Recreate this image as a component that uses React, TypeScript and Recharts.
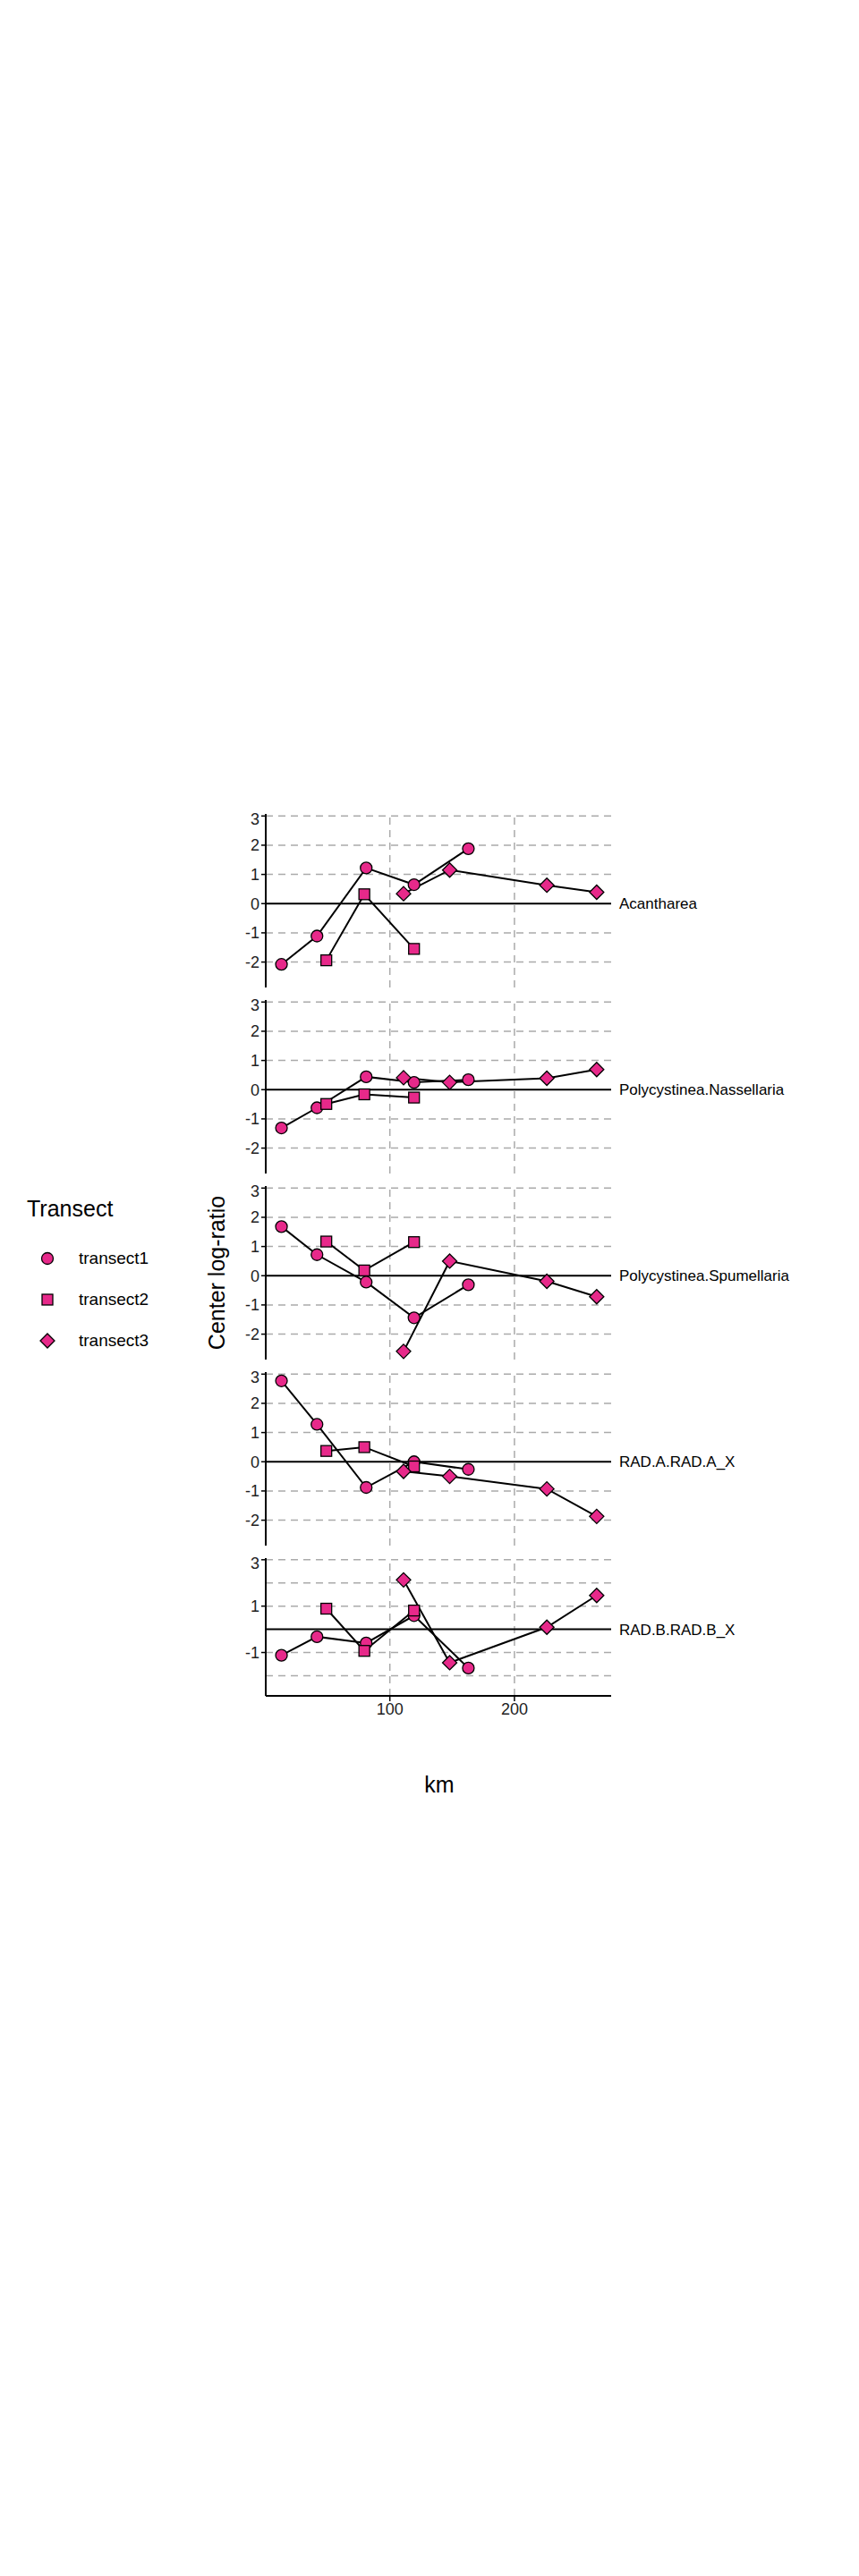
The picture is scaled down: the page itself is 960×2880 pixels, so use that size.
import { Line, LineChart, ReferenceLine, XAxis, YAxis } from "recharts";

const taxa = [
  "Acantharea",
  "Polycystinea.Nassellaria",
  "Polycystinea.Spumellaria",
  "RAD.A.RAD.A_X",
  "RAD.B.RAD.B_X",
];

const kmT1 = [13, 41.5, 81, 119.4, 163];
const kmT2 = [49, 79.5, 119.4];
const kmT3 = [111, 148, 226, 266];

// center log-ratio per taxon, one row per taxon
const clrT1 = [
  [-2.08, -1.11, 1.22, 0.65, 1.88],
  [-1.31, -0.62, 0.44, 0.25, 0.34],
  [1.68, 0.72, -0.22, -1.44, -0.31],
  [2.77, 1.28, -0.88, 0.0, -0.26],
  [-1.12, -0.32, -0.59, 0.59, -1.67],
];
const clrT2 = [
  [-1.94, 0.32, -1.55],
  [-0.49, -0.16, -0.27],
  [1.17, 0.18, 1.15],
  [0.37, 0.5, -0.16],
  [0.89, -0.93, 0.81],
];
const clrT3 = [
  [0.34, 1.15, 0.63, 0.39],
  [0.41, 0.25, 0.39, 0.69],
  [-2.59, 0.5, -0.19, -0.72],
  [-0.33, -0.5, -0.93, -1.87],
  [2.13, -1.44, 0.09, 1.46],
];

const yTicks = [-2, -1, 0, 1, 2, 3];
const xTicks = [100, 200];
const PINK = "#e7298a";
const FONT = "Liberation Sans, Arial, sans-serif";

const toRows = (km: number[], vals: number[]) => km.map((k, i) => ({ km: k, v: vals[i] }));

const Circle = (p: any) => (
  <circle key={p.index} cx={p.cx} cy={p.cy} r={6.5} fill={PINK} stroke="#000" strokeWidth={1.3} />
);
const Square = (p: any) => (
  <rect key={p.index} x={p.cx - 6} y={p.cy - 6} width={12} height={12} fill={PINK} stroke="#000" strokeWidth={1.3} />
);
const Diamond = (p: any) => (
  <path
    key={p.index}
    d={`M${p.cx},${p.cy - 8}L${p.cx + 8},${p.cy}L${p.cx},${p.cy + 8}L${p.cx - 8},${p.cy}Z`}
    fill={PINK}
    stroke="#000"
    strokeWidth={1.3}
  />
);

const PANEL_TOP = 905;
const PITCH = 208;
const PLOT_H = 194;

const Panel = ({ i, last }: { i: number; last: boolean }) => {
  const bottom = last ? 40 : 5;
  return (
    <div style={{ position: "absolute", left: 0, top: PANEL_TOP + i * PITCH }}>
      <LineChart
        width={960}
        height={PLOT_H + 5 + bottom}
        margin={{ top: 5, right: 277, bottom, left: 257 }}
      >
        <XAxis
          type="number"
          dataKey="km"
          domain={[0.4, 277.6]}
          ticks={xTicks}
          allowDataOverflow
          height={last ? 40 : 0}
          tick={last ? { fill: "#222", fontSize: 18, fontFamily: FONT } : false}
          axisLine={last ? { stroke: "#000", strokeWidth: 2 } : false}
          tickLine={last ? { stroke: "#000", strokeWidth: 1.5 } : false}
          tickSize={6}
        />
        <YAxis
          type="number"
          domain={[-2.87, 3.07]}
          ticks={yTicks}
          allowDataOverflow
          width={40}
          tick={{ fill: "#222", fontSize: 18, fontFamily: FONT }}
          axisLine={{ stroke: "#000", strokeWidth: 2 }}
          tickLine={{ stroke: "#000", strokeWidth: 1.5 }}
          tickSize={5}
        />
        {yTicks
          .filter((t) => t !== 0)
          .map((t) => (
            <ReferenceLine key={`y${t}`} y={t} stroke="#aaaaaa" strokeWidth={1.5} strokeDasharray="8 6" />
          ))}
        {xTicks.map((t) => (
          <ReferenceLine key={`x${t}`} x={t} stroke="#aaaaaa" strokeWidth={1.5} strokeDasharray="8 6" />
        ))}
        <ReferenceLine
          y={0}
          stroke="#000"
          strokeWidth={2}
          label={{ value: taxa[i], position: "right", fill: "#000", fontSize: 17, fontFamily: FONT, dx: 4 }}
        />
        <Line data={toRows(kmT1, clrT1[i])} dataKey="v" stroke="#000" strokeWidth={2} dot={Circle} isAnimationActive={false} />
        <Line data={toRows(kmT2, clrT2[i])} dataKey="v" stroke="#000" strokeWidth={2} dot={Square} isAnimationActive={false} />
        <Line data={toRows(kmT3, clrT3[i])} dataKey="v" stroke="#000" strokeWidth={2} dot={Diamond} isAnimationActive={false} />
      </LineChart>
    </div>
  );
};

const legendItems = [
  { name: "transect1", Shape: Circle },
  { name: "transect2", Shape: Square },
  { name: "transect3", Shape: Diamond },
];

export default function App() {
  return (
    <div style={{ position: "absolute", left: 0, top: 0, width: 960, height: 2880, background: "#fff", fontFamily: FONT }}>
      {taxa.map((t, i) => (
        <Panel key={t} i={i} last={i === taxa.length - 1} />
      ))}
      <div
        style={{
          position: "absolute",
          left: 242,
          top: 1423,
          transform: "translate(-50%, -50%) rotate(-90deg)",
          fontSize: 25,
          whiteSpace: "nowrap",
          color: "#000",
        }}
      >
        Center log-ratio
      </div>
      <div style={{ position: "absolute", left: 491, top: 1995, transform: "translate(-50%, -50%)", fontSize: 25 }}>km</div>
      <div style={{ position: "absolute", left: 30, top: 1337, fontSize: 25 }}>Transect</div>
      {legendItems.map((it, k) => (
        <div key={it.name} style={{ position: "absolute", left: 40, top: 1394 + k * 46, display: "flex", alignItems: "center" }}>
          <svg width={26} height={26}>
            <it.Shape cx={13} cy={13} index={0} />
          </svg>
          <span style={{ marginLeft: 22, fontSize: 19 }}>{it.name}</span>
        </div>
      ))}
    </div>
  );
}
